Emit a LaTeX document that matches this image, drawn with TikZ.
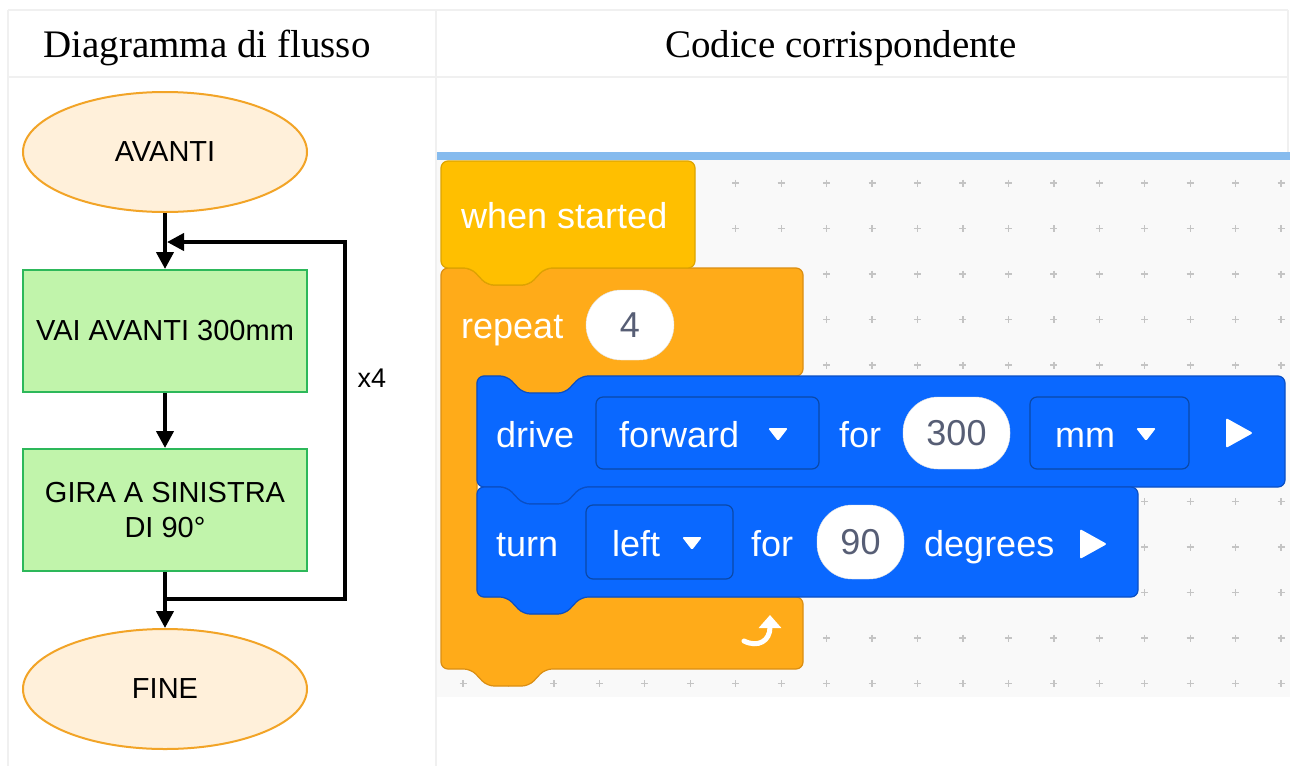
\documentclass[tikz,border=0pt]{standalone}
\usepackage{fontspec}
\setmainfont{Liberation Serif}
\newfontfamily\sansfont{Liberation Sans}
\usetikzlibrary{shapes.geometric,arrows.meta}

\definecolor{termfill}{HTML}{FFF0DA}
\definecolor{termline}{HTML}{F2A427}
\definecolor{procfill}{HTML}{C1F4AB}
\definecolor{procline}{HTML}{2DB85A}
\definecolor{gridline}{HTML}{F0F0F0}
\definecolor{barblue}{HTML}{86BBEE}
\definecolor{canvasgray}{HTML}{F9F9F9}
\definecolor{dotgray}{HTML}{C4C4C4}
\definecolor{eventfill}{HTML}{FFBF00}
\definecolor{eventline}{HTML}{DDA400}
\definecolor{ctrlfill}{HTML}{FFAB19}
\definecolor{ctrlline}{HTML}{DB8E12}
\definecolor{motionfill}{HTML}{0A68FF}
\definecolor{motionline}{HTML}{0A4FC4}
\definecolor{fieldline}{HTML}{0B49A8}
\definecolor{valuetext}{HTML}{575E75}

\begin{document}
\begin{tikzpicture}[x=1pt,y=-1pt,
	term/.style={ellipse,draw=termline,fill=termfill,line width=2pt,minimum width=284pt,minimum height=120pt,font=\sansfont\fontsize{29}{35}\selectfont},
	proc/.style={rectangle,draw=procline,fill=procfill,line width=2pt,minimum width=284pt,minimum height=122pt,align=center,font=\sansfont\fontsize{29}{35}\selectfont},
	flow/.style={line width=4pt,-{Triangle[length=17pt,width=17pt]}},
	head/.style={anchor=base,inner sep=0pt,font=\fontsize{39}{45}\selectfont},
	blocktext/.style={anchor=base west,inner sep=0pt,text=white,font=\sansfont\fontsize{36}{40}\selectfont},
	valuebox/.style={draw=black!12,fill=white,rounded corners=35pt,inner sep=0pt,text=valuetext,font=\sansfont\fontsize{36}{40}\selectfont},
	dropbox/.style={draw=fieldline,line width=1.2pt,rounded corners=7pt,inner sep=0pt},
	topnotch/.style 2 args={insert path={-- (#1+30,#2) -- (#1+46,#2+17) -- (#1+88,#2+17) -- (#1+104,#2)}},
	bottomtab/.style 2 args={insert path={-- (#1+104,#2) -- (#1+88,#2+17) -- (#1+46,#2+17) -- (#1+30,#2)}},
	block/.style={line width=1.2pt,rounded corners=7pt}]
	\useasboundingbox (0,0) rectangle (1290,766);
	\fill[white] (0,0) rectangle (1290,766);

	% table
	\draw[gridline,line width=1.5pt] (8,10) -- (1288,10) (8,77) -- (1288,77) (8,10) -- (8,766) (436,10) -- (436,766) (1288,10) -- (1288,152);
	\node[head] (lefthead) at (207,57) {Diagramma di flusso};
	\node[head] (righthead) at (841,57) {Codice corrispondente};

	% flowchart
	\node[term] (start) at (165,152) {AVANTI};
	\node[proc] (drivestep) at (165,331) {VAI AVANTI 300mm};
	\node[proc] (turnstep) at (165,510) {GIRA A SINISTRA\\DI 90°};
	\node[term] (stop) at (165,689) {FINE};
	\coordinate (loopbot) at (345,599);
	\coordinate (looptop) at (345,242);
	\draw[flow] (start) -- (drivestep);
	\draw[flow] (drivestep) -- (turnstep);
	\draw[flow] (turnstep) -- (stop);
	\draw[flow] (turnstep.south |- loopbot) -- (loopbot) -- (looptop) -- ([xshift=2pt]start.south |- looptop);
	\node[font=\sansfont\fontsize{27}{30}\selectfont] (times) at (372,378) {x4};

	% workspace
	\fill[barblue] (437,152) rectangle (1290,160);
	\fill[canvasgray] (437,160) rectangle (1290,697);
	\foreach \x in {463,508.45,...,1283}
		\foreach \y in {183,228.5,...,686}
			\draw[dotgray,line width=1.3pt] (\x-3.5,\y) -- ++(7,0) (\x,\y-3.5) -- ++(0,7);

	% repeat block
	\draw[block,draw=ctrlline,fill=ctrlfill] (441,268) [topnotch={441}{268}] -- (803,268) -- (803,376) [bottomtab={477}{376}] -- (477,376) -- (477,597) [topnotch={477}{597}] -- (803,597) -- (803,669) [bottomtab={441}{669}] -- (441,669) -- cycle;
	% hat block
	\draw[block,draw=eventline,fill=eventfill] (441,268) -- (441,161) -- (695,161) -- (695,268) [bottomtab={441}{268}] -- cycle;
	% drive and turn blocks
	\draw[block,draw=motionline,fill=motionfill] (477,376) [topnotch={477}{376}] -- (1285,376) -- (1285,487) [bottomtab={477}{487}] -- (477,487) -- cycle;
	\draw[block,draw=motionline,fill=motionfill] (477,487) [topnotch={477}{487}] -- (1138,487) -- (1138,597) [bottomtab={477}{597}] -- (477,597) -- cycle;

	\node[blocktext] (whentxt) at (461,228) {when started};
	\node[blocktext] (repeattxt) at (461,338) {repeat};
	\node[valuebox,minimum width=88pt,minimum height=70pt] (count) at (630,325) {4};
	\draw[white,line width=5pt,line cap=round,-{Triangle[length=13pt,width=22pt]}] (744,641) .. controls (758,648) and (770,641) .. (770,615);

	\node[blocktext] (drivetxt) at (496,447) {drive};
	\node[dropbox,minimum width=223pt,minimum height=72pt] (dirbox) at (707.5,433) {};
	\node[blocktext] (dirtxt) at (619,447) {forward};
	\fill[white,rounded corners=1.5pt] (768,428) -- (788,428) -- (778,441) -- cycle;
	\node[blocktext] (fortxt) at (839,447) {for};
	\node[valuebox,minimum width=107pt,minimum height=72pt] (dist) at (956.5,433) {300};
	\node[dropbox,minimum width=159pt,minimum height=72pt] (unitbox) at (1109.5,433) {};
	\node[blocktext] (unittxt) at (1055,447) {mm};
	\fill[white,rounded corners=1.5pt] (1136,428) -- (1156,428) -- (1146,441) -- cycle;
	\fill[white,rounded corners=2pt] (1226,418) -- (1253,433) -- (1226,448) -- cycle;

	\node[blocktext] (turntxt) at (496,556) {turn};
	\node[dropbox,minimum width=147pt,minimum height=74pt] (sidebox) at (659.5,542) {};
	\node[blocktext] (sidetxt) at (612,556) {left};
	\fill[white,rounded corners=1.5pt] (682,537) -- (702,537) -- (692,550) -- cycle;
	\node[blocktext] (fortxtb) at (751,556) {for};
	\node[valuebox,minimum width=87pt,minimum height=74pt] (angle) at (860.5,542) {90};
	\node[blocktext] (degtxt) at (924,556) {degrees};
	\fill[white,rounded corners=2pt] (1080,529) -- (1107,544) -- (1080,559) -- cycle;
\end{tikzpicture}
\end{document}
